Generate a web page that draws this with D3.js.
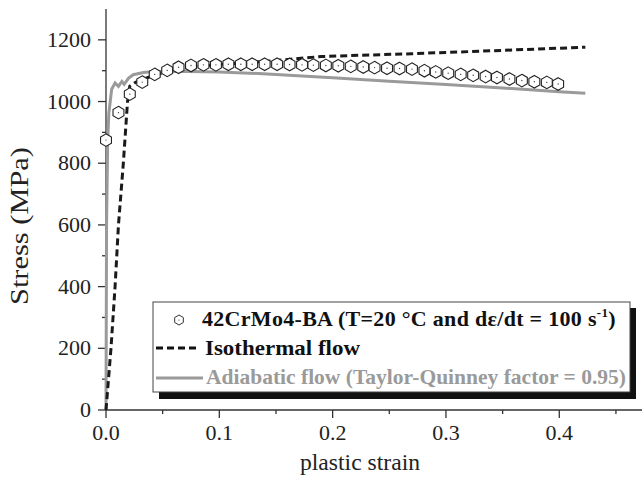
<!DOCTYPE html>
<html><head><meta charset="utf-8">
<script src="https://cdn.jsdelivr.net/npm/d3@7"></script>
<style>body{margin:0;background:#fff}svg{display:block}</style>
</head><body>
<svg id="c" width="642" height="477"></svg>
<script>
// Experimental points (hexagons)
const expStrain = [0.000,0.011,0.021,0.032,0.043,0.054,0.064,0.075,0.086,0.097,0.108,0.119,0.129,0.140,0.151,0.162,0.173,0.183,0.194,0.205,0.216,0.227,0.237,0.248,0.259,0.270,0.281,0.291,0.302,0.313,0.324,0.335,0.345,0.356,0.367,0.378,0.389,0.399];
const expStress = [875,964,1024,1063,1088,1101,1111,1117,1119,1119,1121,1121,1121,1121,1121,1120,1119,1118,1117,1116,1114,1112,1110,1108,1107,1105,1100,1096,1092,1088,1085,1081,1078,1073,1068,1064,1062,1057];
// Isothermal flow (dashed)
const isoStrain = [0.000,0.0044,0.008,0.011,0.0153,0.019,0.021,0.026,0.040,0.060,0.080,0.100,0.130,0.150,0.190,0.270,0.350,0.423];
const isoStress = [0,200,400,600,800,1000,1050,1062,1082,1102,1113,1120,1127,1133,1146,1155,1166,1176];
// Adiabatic flow (grey)
const adiStrain = [0.000,0.0005,0.0015,0.0025,0.005,0.008,0.011,0.014,0.016,0.020,0.024,0.033,0.042,0.060,0.100,0.127,0.150,0.200,0.250,0.300,0.350,0.400,0.423];
const adiStress = [0,600,876,962,1040,1060,1049,1065,1056,1076,1087,1094,1097,1098,1096,1092,1088,1077,1066,1055,1044,1032,1027];

const xTicks = [0,0.1,0.2,0.3,0.4];
const xMinor = [0.05,0.15,0.25,0.35,0.45];
const yTicks = [0,200,400,600,800,1000,1200];
const yMinor = [100,300,500,700,900,1100];

const svg = d3.select('#c');
const x = d3.scaleLinear().domain([0,0.473]).range([106,642]);
const y = d3.scaleLinear().domain([0,1300]).range([410,9]);
const font = "'Liberation Serif', serif";
const axisCol = '#333';

// axes lines
svg.append('line').attr('x1',106).attr('x2',106).attr('y1',9).attr('y2',410).attr('stroke',axisCol).attr('stroke-width',1.3);
svg.append('line').attr('x1',106).attr('x2',642).attr('y1',410).attr('y2',410).attr('stroke',axisCol).attr('stroke-width',1.3);

// y ticks
svg.selectAll('.yt').data(yTicks).enter().append('line')
  .attr('x1',98).attr('x2',106).attr('y1',d=>y(d)).attr('y2',d=>y(d)).attr('stroke',axisCol).attr('stroke-width',1.3);
svg.selectAll('.ym').data(yMinor).enter().append('line')
  .attr('x1',102).attr('x2',106).attr('y1',d=>y(d)).attr('y2',d=>y(d)).attr('stroke',axisCol).attr('stroke-width',1.3);
svg.selectAll('.yl').data(yTicks).enter().append('text')
  .attr('x',91).attr('y',d=>y(d)+7).attr('text-anchor','end')
  .attr('font-family',font).attr('font-size',22).attr('fill','#222').text(d=>d);

// x ticks
svg.selectAll('.xt').data(xTicks).enter().append('line')
  .attr('x1',d=>x(d)).attr('x2',d=>x(d)).attr('y1',410).attr('y2',418).attr('stroke',axisCol).attr('stroke-width',1.3);
svg.selectAll('.xm').data(xMinor).enter().append('line')
  .attr('x1',d=>x(d)).attr('x2',d=>x(d)).attr('y1',410).attr('y2',414).attr('stroke',axisCol).attr('stroke-width',1.3);
svg.selectAll('.xl').data(xTicks).enter().append('text')
  .attr('x',d=>x(d)).attr('y',440).attr('text-anchor','middle')
  .attr('font-family',font).attr('font-size',22).attr('fill','#222').text(d=>d.toFixed(1));

// axis titles
svg.append('text').attr('x',360).attr('y',470).attr('text-anchor','middle')
  .attr('font-family',font).attr('font-size',24).attr('fill','#222')
  .attr('textLength',120).attr('lengthAdjust','spacingAndGlyphs').text('plastic strain');
svg.append('text').attr('transform','translate(28,226) rotate(-90)').attr('text-anchor','middle')
  .attr('font-family',font).attr('font-size',25).attr('fill','#222')
  .attr('textLength',158).attr('lengthAdjust','spacingAndGlyphs').text('Stress (MPa)');

const line = d3.line().x(d=>x(d[0])).y(d=>y(d[1]));
svg.append('path').datum(adiStrain.map((s,i)=>[s,adiStress[i]])).attr('d',line)
  .attr('fill','none').attr('stroke','#9a9a9a').attr('stroke-width',3);
svg.append('path').datum(isoStrain.map((s,i)=>[s,isoStress[i]])).attr('d',line)
  .attr('fill','none').attr('stroke','#1a1a1a').attr('stroke-width',3).attr('stroke-dasharray','7,4');

function hex(r){
  const p=[];
  for(let k=0;k<6;k++){const a=Math.PI/3*k - Math.PI/2; p.push([r*Math.cos(a), r*Math.sin(a)]);}
  return 'M'+p.map(q=>q.join(',')).join('L')+'Z';
}
const mk = svg.selectAll('.m').data(expStrain.map((s,i)=>[s,expStress[i]])).enter().append('g')
  .attr('transform',d=>`translate(${x(d[0])},${y(d[1])})`);
mk.append('path').attr('d',hex(6.3)).attr('fill','#fff').attr('stroke','#222').attr('stroke-width',1.1);
mk.append('circle').attr('r',0.7).attr('fill','#444');

// legend
svg.append('rect').attr('x',159).attr('y',308).attr('width',477).attr('height',91).attr('fill','#111');
svg.append('rect').attr('x',153).attr('y',302).attr('width',477).attr('height',90).attr('fill','#fff').attr('stroke','#444').attr('stroke-width',1);
const lg = svg.append('g');
lg.append('path').attr('d',hex(5)).attr('transform','translate(179,320)').attr('fill','#fff').attr('stroke','#333').attr('stroke-width',1);
lg.append('circle').attr('cx',179).attr('cy',320).attr('r',0.6).attr('fill','#444');
const t1 = lg.append('text').attr('x',202).attr('y',326).attr('font-family',font).attr('font-size',22).attr('font-weight','bold').attr('fill','#111').attr('letter-spacing',0.3);
t1.append('tspan').text('42CrMo4-BA (T=20 °C and dε/dt = 100 s');
t1.append('tspan').attr('dy',-9).attr('font-size',13).text('-1');
t1.append('tspan').attr('dy',9).text(')');
lg.append('line').attr('x1',156).attr('x2',200).attr('y1',348).attr('y2',348).attr('stroke','#111').attr('stroke-width',3).attr('stroke-dasharray','7,4');
lg.append('text').attr('x',205).attr('y',355).attr('font-family',font).attr('font-size',22).attr('font-weight','bold').attr('fill','#111')
  .attr('textLength',155).attr('lengthAdjust','spacingAndGlyphs').text('Isothermal flow');
lg.append('line').attr('x1',156).attr('x2',203).attr('y1',378).attr('y2',378).attr('stroke','#9a9a9a').attr('stroke-width',3);
lg.append('text').attr('x',206).attr('y',384).attr('font-family',font).attr('font-size',22).attr('font-weight','bold').attr('fill','#9a9a9a')
  .attr('textLength',420).attr('lengthAdjust','spacingAndGlyphs').text('Adiabatic flow (Taylor-Quinney factor = 0.95)');
</script>
</body></html>
